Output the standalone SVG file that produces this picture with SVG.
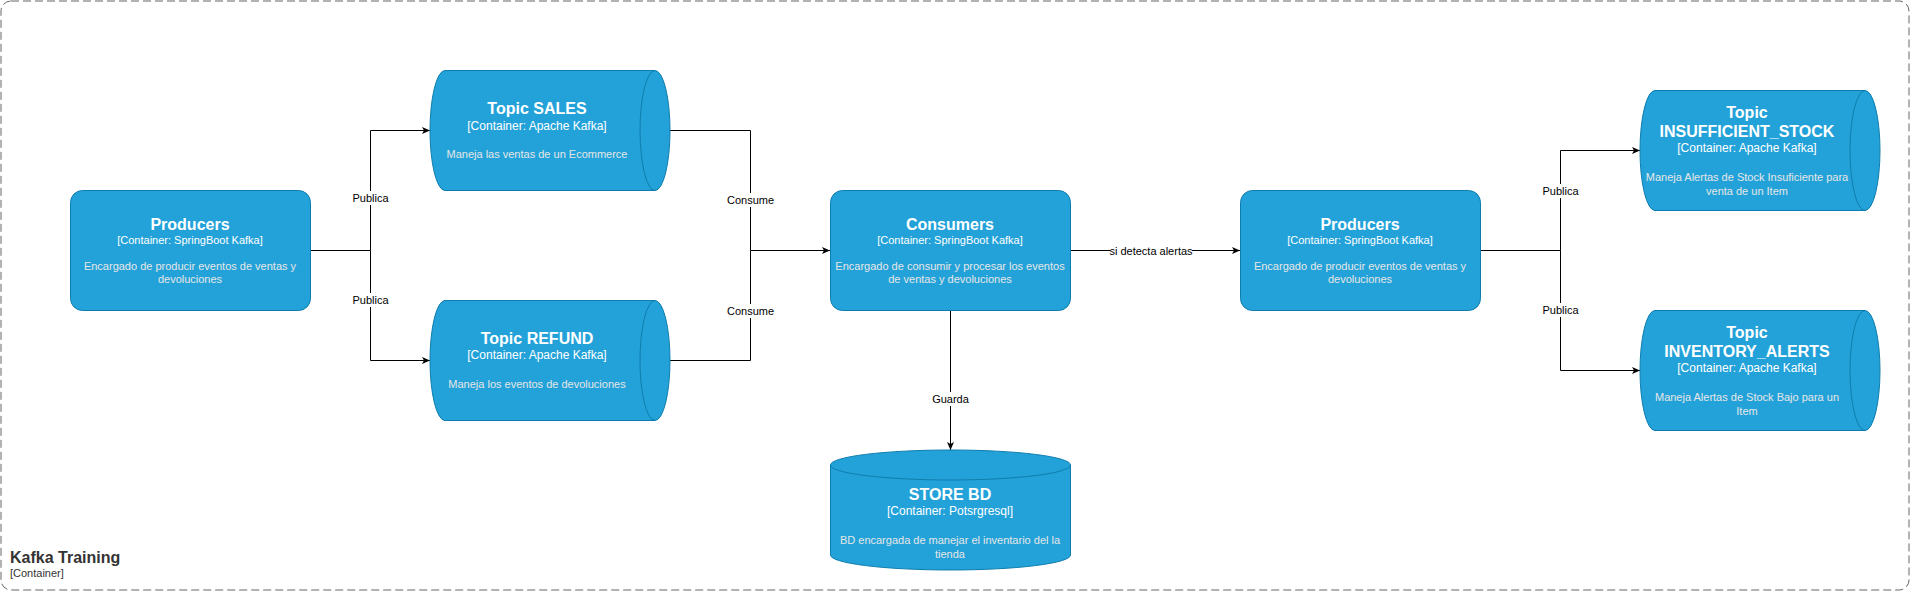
<svg xmlns="http://www.w3.org/2000/svg" width="1912" height="592" viewBox="0 0 1912 592">
<style>
.shape{fill:#23A2D9;stroke:#0E7DAD;stroke-width:1}
.cap{fill:none;stroke:#0E7DAD;stroke-width:1}
.t{font-family:"Liberation Sans",Arial,sans-serif;fill:#FFFFFF;text-anchor:middle}
.title{font-size:16px;font-weight:bold}
.sub{font-size:12px}
.sub11{font-size:11px}
.desc{font-size:11px;fill:#E6E6E6}
.edge{fill:none;stroke:#000000;stroke-width:1}
.lbl{font-family:"Liberation Sans",Arial,sans-serif;font-size:11px;fill:#000000;text-anchor:middle}
.lblbg{fill:#FFFFFF}
.bt{font-family:"Liberation Sans",Arial,sans-serif;fill:#333333}
</style>
<defs>
<marker id="arr" markerUnits="userSpaceOnUse" markerWidth="10" markerHeight="10" refX="8" refY="3.5" orient="auto">
<path d="M0,0 L8,3.5 L0,7 L2,3.5 Z" fill="#000000"/>
</marker>
</defs>
<rect width="1912" height="592" fill="#FFFFFF"/>
<g id="boundary">
<rect x="1" y="1" width="1908" height="589" rx="10" fill="none" stroke="#666666" stroke-width="1" stroke-dasharray="8 4"/>
<text class="bt" x="10" y="563" font-size="16" font-weight="bold">Kafka Training</text>
<text class="bt" x="10" y="577" font-size="11">[Container]</text>
</g>
<g id="connectors">
<path class="edge" d="M310,250.5 H370.5 V130.5 H430" marker-end="url(#arr)"/>
<path class="edge" d="M370.5,250.5 V360.5 H430" marker-end="url(#arr)"/>
<path class="edge" d="M670,130.5 H750.5 V250.5 H830" marker-end="url(#arr)"/>
<path class="edge" d="M670,360.5 H750.5 V250.5"/>
<path class="edge" d="M1070,250.5 H1240" marker-end="url(#arr)"/>
<path class="edge" d="M950.5,310 V450" marker-end="url(#arr)"/>
<path class="edge" d="M1480,250.5 H1560.5 V150.5 H1640" marker-end="url(#arr)"/>
<path class="edge" d="M1560.5,250.5 V370.5 H1640" marker-end="url(#arr)"/>
<rect class="lblbg" x="352" y="191" width="38" height="14"/>
<text class="lbl" x="370.5" y="202">Publica</text>
<rect class="lblbg" x="352" y="293" width="38" height="14"/>
<text class="lbl" x="370.5" y="304">Publica</text>
<rect class="lblbg" x="727" y="193" width="48" height="14"/>
<text class="lbl" x="750.5" y="204">Consume</text>
<rect class="lblbg" x="727" y="304" width="48" height="14"/>
<text class="lbl" x="750.5" y="315">Consume</text>
<rect class="lblbg" x="1110" y="244" width="82" height="14"/>
<text class="lbl" x="1151" y="255">si detecta alertas</text>
<rect class="lblbg" x="932" y="392" width="38" height="14"/>
<text class="lbl" x="950.5" y="403">Guarda</text>
<rect class="lblbg" x="1542" y="184" width="38" height="14"/>
<text class="lbl" x="1560.5" y="195">Publica</text>
<rect class="lblbg" x="1542" y="303" width="38" height="14"/>
<text class="lbl" x="1560.5" y="314">Publica</text>
</g>
<g id="producers-left">
<rect class="shape" x="70.5" y="190.5" width="240" height="120" rx="12"/>
<text class="t title" x="190" y="230">Producers</text>
<text class="t sub11" x="190" y="244">[Container: SpringBoot Kafka]</text>
<text class="t desc" x="190" y="270">Encargado de producir eventos de ventas y</text>
<text class="t desc" x="190" y="283">devoluciones</text>
</g>
<g id="topic-sales">
<path class="shape" d="M445,70.5 H655 A15,60 0 0 1 655,190.5 H445 A15,60 0 0 1 445,70.5 Z"/>
<path class="cap" d="M655,70.5 A15,60 0 0 0 655,190.5"/>
<text class="t title" x="537" y="114">Topic SALES</text>
<text class="t sub" x="537" y="130">[Container: Apache Kafka]</text>
<text class="t desc" x="537" y="158">Maneja las ventas de un Ecommerce</text>
</g>
<g id="topic-refund">
<path class="shape" d="M445,300.5 H655 A15,60 0 0 1 655,420.5 H445 A15,60 0 0 1 445,300.5 Z"/>
<path class="cap" d="M655,300.5 A15,60 0 0 0 655,420.5"/>
<text class="t title" x="537" y="344">Topic REFUND</text>
<text class="t sub" x="537" y="359">[Container: Apache Kafka]</text>
<text class="t desc" x="537" y="388">Maneja los eventos de devoluciones</text>
</g>
<g id="consumers">
<rect class="shape" x="830.5" y="190.5" width="240" height="120" rx="12"/>
<text class="t title" x="950" y="230">Consumers</text>
<text class="t sub11" x="950" y="244">[Container: SpringBoot Kafka]</text>
<text class="t desc" x="950" y="270">Encargado de consumir y procesar los eventos</text>
<text class="t desc" x="950" y="283">de ventas y devoluciones</text>
</g>
<g id="store-bd">
<path class="shape" d="M830.5,465 A120,15 0 0 1 1070.5,465 V555 A120,15 0 0 1 830.5,555 Z"/>
<path class="cap" d="M830.5,465 A120,15 0 0 0 1070.5,465"/>
<text class="t title" x="950" y="500">STORE BD</text>
<text class="t sub" x="950" y="515">[Container: Potsrgresql]</text>
<text class="t desc" x="950" y="544">BD encargada de manejar el inventario del la</text>
<text class="t desc" x="950" y="558">tienda</text>
</g>
<g id="producers-right">
<rect class="shape" x="1240.5" y="190.5" width="240" height="120" rx="12"/>
<text class="t title" x="1360" y="230">Producers</text>
<text class="t sub11" x="1360" y="244">[Container: SpringBoot Kafka]</text>
<text class="t desc" x="1360" y="270">Encargado de producir eventos de ventas y</text>
<text class="t desc" x="1360" y="283">devoluciones</text>
</g>
<g id="topic-insufficient-stock">
<path class="shape" d="M1655,90.5 H1865 A15,60 0 0 1 1865,210.5 H1655 A15,60 0 0 1 1655,90.5 Z"/>
<path class="cap" d="M1865,90.5 A15,60 0 0 0 1865,210.5"/>
<text class="t title" x="1747" y="118">Topic</text>
<text class="t title" x="1747" y="137">INSUFFICIENT_STOCK</text>
<text class="t sub" x="1747" y="152">[Container: Apache Kafka]</text>
<text class="t desc" x="1747" y="181">Maneja Alertas de Stock Insuficiente para</text>
<text class="t desc" x="1747" y="195">venta de un Item</text>
</g>
<g id="topic-inventory-alerts">
<path class="shape" d="M1655,310.5 H1865 A15,60 0 0 1 1865,430.5 H1655 A15,60 0 0 1 1655,310.5 Z"/>
<path class="cap" d="M1865,310.5 A15,60 0 0 0 1865,430.5"/>
<text class="t title" x="1747" y="338">Topic</text>
<text class="t title" x="1747" y="357">INVENTORY_ALERTS</text>
<text class="t sub" x="1747" y="372">[Container: Apache Kafka]</text>
<text class="t desc" x="1747" y="401">Maneja Alertas de Stock Bajo para un</text>
<text class="t desc" x="1747" y="415">Item</text>
</g>
</svg>
